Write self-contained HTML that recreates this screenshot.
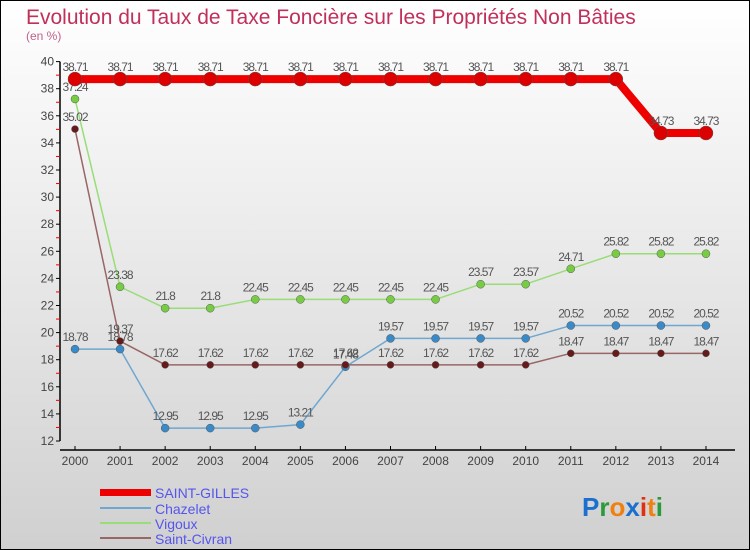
<!DOCTYPE html>
<html><head><meta charset="utf-8"><style>
body{margin:0}
#c{width:750px;height:550px;position:relative;overflow:hidden;font-family:"Liberation Sans",sans-serif}
</style></head><body>
<div id="c">
<svg id="s" width="750" height="550" xmlns="http://www.w3.org/2000/svg">
<defs><linearGradient id="bg" x1="0" y1="0" x2="0" y2="1"><stop offset="0" stop-color="#ffffff"/><stop offset="1" stop-color="#d0d0d0"/></linearGradient></defs>
<rect x="0.5" y="0.5" width="749" height="549" fill="url(#bg)" stroke="#000"/>
<text x="26" y="24" font-size="21" fill="#c0305a">Evolution du Taux de Taxe Foncière sur les Propriétés Non Bâties</text>
<text x="26" y="40" font-size="12" fill="#c0608a">(en %)</text>
<g id="axes"></g><g id="series"></g>
<g>
<rect x="100" y="489" width="51" height="7" fill="#e00"/>
<text x="155" y="498" font-size="14" fill="#5555ee">SAINT-GILLES</text>
<line x1="100" y1="508" x2="151" y2="508" stroke="#6fa7d0" stroke-width="2"/>
<text x="155" y="514" font-size="14" fill="#5555ee">Chazelet</text>
<line x1="100" y1="523" x2="151" y2="523" stroke="#99dd77" stroke-width="2"/>
<text x="155" y="529" font-size="14" fill="#5555ee">Vigoux</text>
<line x1="100" y1="538" x2="151" y2="538" stroke="#996666" stroke-width="2"/>
<text x="155" y="544" font-size="14" fill="#5555ee">Saint-Civran</text>
</g>
<text x="582" y="516" font-size="26" font-weight="bold"><tspan fill="#1a6fcf">P</tspan><tspan fill="#2a9a3a">r</tspan><tspan fill="#f08010">o</tspan><tspan fill="#1a6fcf">x</tspan><tspan fill="#e03010">i</tspan><tspan fill="#f08010">t</tspan><tspan fill="#2a9a3a">i</tspan></text>
</svg>
</div>
<script>
const years=[2000,2001,2002,2003,2004,2005,2006,2007,2008,2009,2010,2011,2012,2013,2014];
const yTicks=[12,14,16,18,20,22,24,26,28,30,32,34,36,38,40];
const saintGilles=[38.71,38.71,38.71,38.71,38.71,38.71,38.71,38.71,38.71,38.71,38.71,38.71,38.71,34.73,34.73];
const chazelet=[18.78,18.78,12.95,12.95,12.95,13.21,17.48,19.57,19.57,19.57,19.57,20.52,20.52,20.52,20.52];
const vigoux=[37.24,23.38,21.8,21.8,22.45,22.45,22.45,22.45,22.45,23.57,23.57,24.71,25.82,25.82,25.82];
const saintCivran=[35.02,19.37,17.62,17.62,17.62,17.62,17.62,17.62,17.62,17.62,17.62,18.47,18.47,18.47,18.47];
const NS="http://www.w3.org/2000/svg";
const X=i=>75+i*45.07;
const Y=v=>441-(v-12)*13.55;
function mk(t,a,p){const e=document.createElementNS(NS,t);for(const k in a)e.setAttribute(k,a[k]);p.appendChild(e);return e;}
const ax=document.getElementById('axes');
mk('line',{x1:60,y1:Y(40),x2:60,y2:Y(12),stroke:'#000','stroke-width':1.5},ax);
mk('line',{x1:60,y1:450,x2:735,y2:450,stroke:'#000','stroke-width':1.5},ax);
yTicks.forEach(v=>{
 mk('line',{x1:56,y1:Y(v),x2:60,y2:Y(v),stroke:'#000'},ax);
 if(v<40)mk('line',{x1:56,y1:Y(v+1),x2:60,y2:Y(v+1),stroke:'#e00'},ax);
 const t=mk('text',{x:54,y:Y(v)+4,'font-size':12,fill:'#444','text-anchor':'end'},ax);t.textContent=v;
 
 
});
years.forEach((y,i)=>{
 mk('line',{x1:X(i),y1:446,x2:X(i),y2:450,stroke:'#000'},ax);
 const t=mk('text',{x:X(i),y:465,'font-size':12,fill:'#444','text-anchor':'middle'},ax);t.textContent=y;
 
 
});
const sg=document.getElementById('series');
function draw(data,name,color,lw,r,dot){
 const g=mk('g',{},sg);
 
 
 mk('polyline',{points:data.map((v,i)=>X(i)+','+Y(v)).join(' '),fill:'none',stroke:color,'stroke-width':lw,'stroke-linejoin':'round'},g);
 data.forEach((v,i)=>{
  const c=mk('circle',{cx:X(i),cy:Y(v),r:r,fill:dot,stroke:'#555','stroke-width':0.5},g);
  
  
  const t=mk('text',{x:X(i),y:Y(v)-8,'font-size':12,fill:'#555','text-anchor':'middle','letter-spacing':'-1'},g);
  t.textContent=String(v).replace('.','.');
  
  
 });
}
draw(chazelet,'chazelet','#6fa7d0',1.5,4,'#3a8ac8');
draw(vigoux,'vigoux','#99dd77',1.5,4,'#77cc44');
draw(saintCivran,'saint-civran','#996666',1.5,3.5,'#661a1a');
draw(saintGilles,'saint-gilles','#ee0000',8,7,'#dd0000');
</script>
</body></html>
